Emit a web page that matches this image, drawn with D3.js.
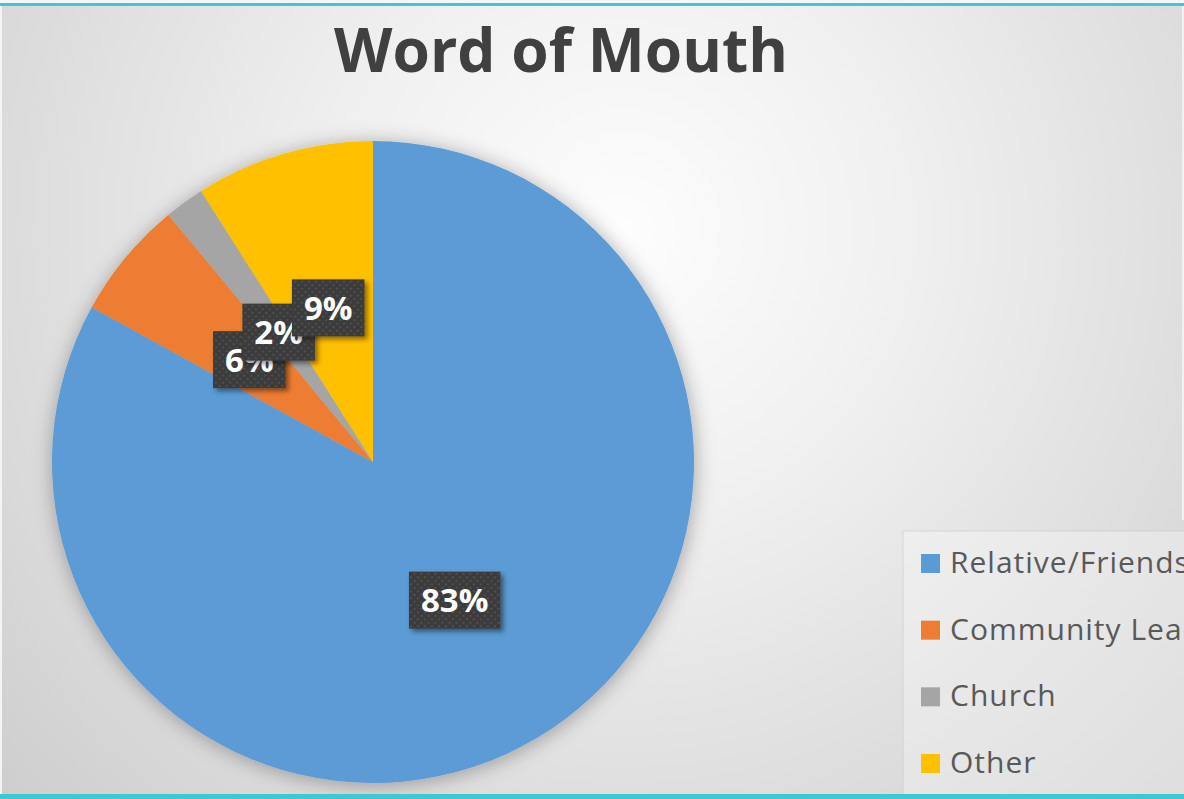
<!DOCTYPE html>
<html>
<head>
<meta charset="utf-8">
<script src="https://cdn.jsdelivr.net/npm/d3@7"></script>
<style>
  html, body { margin: 0; padding: 0; background: #ffffff; }
  svg { display: block; }
</style>
</head>
<body>
<svg id="chart" width="1184" height="799"></svg>
<script>
// Word of Mouth survey shares
const categories = ["Relative/Friends", "Community Leader", "Church", "Other"];
const shares = [83, 6, 2, 9];
const colors = ["#5B9BD5", "#ED7D31", "#A5A5A5", "#FFC000"];
const chartTitle = "Word of Mouth";

const W = 1184, H = 799;
const svg = d3.select("#chart");
const defs = svg.append("defs");

// background: soft radial light
const bg = defs.append("radialGradient")
  .attr("id", "bgGrad").attr("gradientUnits", "userSpaceOnUse")
  .attr("cx", 620).attr("cy", 230).attr("r", 820);
bg.append("stop").attr("offset", "0").attr("stop-color", "#fdfdfd");
bg.append("stop").attr("offset", "0.35").attr("stop-color", "#f0f0f0");
bg.append("stop").attr("offset", "1").attr("stop-color", "#cfcfcf");

// soft shadow around the pie
const pieShadow = defs.append("filter").attr("id", "pieShadow")
  .attr("x", "-20%").attr("y", "-20%").attr("width", "140%").attr("height", "140%");
pieShadow.append("feDropShadow").attr("dx", 1).attr("dy", 2)
  .attr("stdDeviation", 10).attr("flood-color", "#000").attr("flood-opacity", 0.32);

// shadow for label boxes
const boxShadow = defs.append("filter").attr("id", "boxShadow")
  .attr("x", "-30%").attr("y", "-30%").attr("width", "160%").attr("height", "160%");
boxShadow.append("feDropShadow").attr("dx", 3).attr("dy", 3)
  .attr("stdDeviation", 2.5).attr("flood-color", "#000").attr("flood-opacity", 0.45);

// dotted texture for label boxes
const dots = defs.append("pattern").attr("id", "dots")
  .attr("patternUnits", "userSpaceOnUse").attr("width", 7).attr("height", 7);
dots.append("rect").attr("width", 7).attr("height", 7).attr("fill", "#3b3b3b");
dots.append("circle").attr("cx", 1.75).attr("cy", 1.75).attr("r", 1).attr("fill", "#575757");
dots.append("circle").attr("cx", 5.25).attr("cy", 5.25).attr("r", 1).attr("fill", "#575757");

svg.append("rect").attr("width", W).attr("height", H).attr("fill", "url(#bgGrad)");

// frame strips
svg.append("rect").attr("x", 0).attr("y", 0).attr("width", 2).attr("height", H).attr("fill", "#f4f4f4");
svg.append("rect").attr("x", W - 2).attr("y", 0).attr("width", 2).attr("height", 520).attr("fill", "#f2f2f2");
svg.append("rect").attr("x", 0).attr("y", 0).attr("width", W).attr("height", 3).attr("fill", "#f6f6f6");
svg.append("rect").attr("x", 0).attr("y", 3).attr("width", W).attr("height", 3).attr("fill", "#3cc9d1");

// title
const title = svg.append("text")
  .attr("x", 561).attr("y", 72)
  .attr("text-anchor", "middle")
  .attr("font-family", "'Open Sans', 'Noto Sans', sans-serif")
  .attr("font-weight", 700)
  .attr("font-size", 64)
  .attr("fill", "#404040")
  .text(chartTitle);
const tw = title.node().getComputedTextLength();
title.attr("font-size", 64 * 454 / tw);

// pie
const cx = 373, cy = 462, radius = 321;
const pie = d3.pie().sort(null).value(d => d.value);
const data = categories.map((c, i) => ({ name: c, value: shares[i], color: colors[i] }));
const arcs = pie(data);
const arc = d3.arc().innerRadius(0).outerRadius(radius);
const labelArc = d3.arc().innerRadius(0).outerRadius(radius);

const g = svg.append("g").attr("transform", `translate(${cx},${cy})`);
g.append("g").attr("filter", "url(#pieShadow)")
  .selectAll("path").data(arcs).join("path")
  .attr("d", arc)
  .attr("fill", d => d.data.color);

// data labels
const labels = g.append("g").selectAll("g").data(arcs).join("g")
  .attr("transform", d => `translate(${labelArc.centroid(d)})`);

labels.each(function (d) {
  const lg = d3.select(this);
  const rect = lg.append("rect").attr("fill", "url(#dots)").attr("filter", "url(#boxShadow)");
  const t = lg.append("text")
    .attr("text-anchor", "middle")
    .attr("dy", "0.36em")
    .attr("font-family", "'Open Sans', 'Noto Sans', sans-serif")
    .attr("font-weight", 700)
    .attr("font-size", 33)
    .attr("fill", "#ffffff")
    .text(d.data.value + "%");
  const w = t.node().getComputedTextLength() + 24;
  const h = 57;
  rect.attr("x", -w / 2).attr("y", -h / 2).attr("width", w).attr("height", h);
});

// legend
const legend = svg.append("g");
legend.append("rect")
  .attr("x", 903).attr("y", 531).attr("width", 290).attr("height", 270)
  .attr("fill", "rgba(255,255,255,0.3)")
  .attr("stroke", "rgba(200,200,200,0.6)");

const legendY = d3.scalePoint().domain(categories).range([573, 773]);
const items = legend.selectAll("g.item").data(data).join("g").attr("class", "item")
  .attr("transform", d => `translate(921,${legendY(d.name)})`);
items.append("rect")
  .attr("x", 0).attr("y", -19).attr("width", 19).attr("height", 19)
  .attr("fill", d => d.color);
items.append("text")
  .attr("x", 29).attr("y", 0)
  .attr("font-family", "'Open Sans', 'Noto Sans', sans-serif")
  .attr("font-size", 30)
  .attr("letter-spacing", 1)
  .attr("fill", "#595959")
  .text(d => d.name);

// bottom strip
svg.append("rect").attr("x", 0).attr("y", H - 5).attr("width", W).attr("height", 5).attr("fill", "#3cc9d1");
</script>
</body>
</html>
